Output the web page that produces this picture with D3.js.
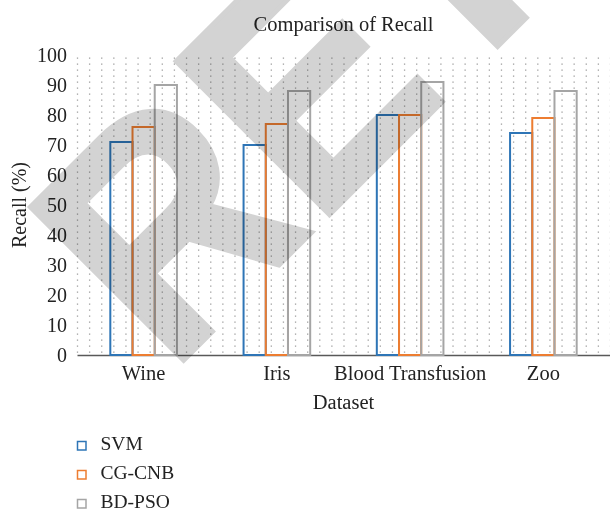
<!DOCTYPE html>
<html>
<head>
<meta charset="utf-8">
<script src="https://cdn.jsdelivr.net/npm/d3@7"></script>
<style>
  body { margin: 0; background: #fff; }
  text { font-family: "Liberation Serif", "Times New Roman", serif; fill: #222; }
</style>
</head>
<body>
<div id="chart"></div>
<script>
// data
var datasets = ["Wine", "Iris", "Blood Transfusion", "Zoo"];
var methods = ["SVM", "CG-CNB", "BD-PSO"];
var svmRecall = [71, 70, 80, 74];
var cgcnbRecall = [76, 77, 80, 79];
var bdpsoRecall = [90, 88, 91, 88];
var yTicks = [0, 10, 20, 30, 40, 50, 60, 70, 80, 90, 100];
var colors = ["#2e75b6", "#ed7d31", "#a5a5a5"];

var rows = datasets.map(function(name, i) {
    return { name: name, values: [svmRecall[i], cgcnbRecall[i], bdpsoRecall[i]] };
});

var W = 610, H = 514;
var margin = {top: 55, right: 0, bottom: 159, left: 77};

var svg = d3.select("#chart").append("svg")
    .attr("width", W)
    .attr("height", H);

var x0 = d3.scaleBand()
    .domain(datasets)
    .range([margin.left, W - margin.right])
    .paddingInner(0.5)
    .paddingOuter(0.25);

var x1 = d3.scaleBand()
    .domain(methods)
    .range([0, x0.bandwidth()]);

var y = d3.scaleLinear()
    .domain([0, 100])
    .range([H - margin.bottom, margin.top]);

// dotted background grid (columns of dots, 11 per category)
var nCols = 44;
var colStep = (W - margin.right - margin.left) / nCols;
var dotGap = y(0) - y(2);
svg.append("g")
    .attr("class", "grid")
    .selectAll("line")
    .data(d3.range(nCols + 1))
  .enter().append("line")
    .attr("x1", function(k) { return margin.left + 0.5 + k * colStep; })
    .attr("x2", function(k) { return margin.left + 0.5 + k * colStep; })
    .attr("y1", y(100))
    .attr("y2", y(0))
    .attr("stroke", "#9c9c9c")
    .attr("stroke-width", 1.3)
    .attr("stroke-dasharray", "1.3 " + (dotGap - 1.3))
    .attr("stroke-dashoffset", -2.5);

// x axis
var xAxis = d3.axisBottom(x0).tickSize(0).tickSizeOuter(0).tickPadding(10);
var gx = svg.append("g")
    .attr("transform", "translate(0," + y(0) + ")")
    .call(xAxis);
gx.select(".domain").attr("stroke", "#595959").attr("stroke-width", 1.5);
gx.selectAll("text")
    .style("font-family", "Liberation Serif, serif")
    .style("font-size", "20.5px")
    .attr("fill", "#222");

// y axis
var yAxis = d3.axisLeft(y).tickValues(yTicks).tickSize(0).tickPadding(10);
var gy = svg.append("g")
    .attr("transform", "translate(" + margin.left + ",0)")
    .call(yAxis);
gy.select(".domain").remove();
gy.selectAll("text")
    .style("font-family", "Liberation Serif, serif")
    .style("font-size", "20px")
    .attr("fill", "#222");

// bars, outline only
var groups = svg.append("g").selectAll("g.grp")
    .data(rows)
  .enter().append("g")
    .attr("class", "grp")
    .attr("transform", function(d) { return "translate(" + x0(d.name) + ",0)"; });

groups.selectAll("rect")
    .data(function(d) { return d.values.map(function(v, i) { return {m: methods[i], v: v, i: i}; }); })
  .enter().append("rect")
    .attr("x", function(d) { return x1(d.m); })
    .attr("y", function(d) { return y(d.v); })
    .attr("width", x1.bandwidth())
    .attr("height", function(d) { return y(0) - y(d.v); })
    .attr("fill", "none")
    .attr("stroke", function(d) { return colors[d.i]; })
    .attr("stroke-width", 2);

// titles
svg.append("text")
    .attr("x", (margin.left + W - margin.right) / 2)
    .attr("y", 31)
    .attr("text-anchor", "middle")
    .style("font-size", "20.5px")
    .text("Comparison of Recall");

svg.append("text")
    .attr("x", (margin.left + W - margin.right) / 2)
    .attr("y", 409)
    .attr("text-anchor", "middle")
    .style("font-size", "20.5px")
    .text("Dataset");

svg.append("text")
    .attr("transform", "translate(26," + y(50) + ") rotate(-90)")
    .attr("text-anchor", "middle")
    .style("font-size", "20px")
    .text("Recall (%)");

// legend
var legend = svg.append("g").selectAll("g")
    .data(methods)
  .enter().append("g")
    .attr("transform", function(d, i) { return "translate(77," + (441 + i * 29) + ")"; });

legend.append("rect")
    .attr("x", 0.5).attr("y", 0.5)
    .attr("width", 8.5).attr("height", 8.5)
    .attr("fill", "none")
    .attr("stroke", function(d, i) { return colors[i]; })
    .attr("stroke-width", 1.5);

legend.append("text")
    .attr("x", 23.5)
    .attr("y", 8.5)
    .style("font-size", "19.5px")
    .text(function(d) { return d; });

// retraction watermark laid over the chart
svg.append("text")
    .attr("transform", "translate(170,374) rotate(-45) scale(0.906,1)")
    .style("font-family", "Liberation Sans, Arial, sans-serif")
    .style("font-weight", "bold")
    .style("font-size", "315px")
    .style("fill", "#d3d3d3")
    .style("stroke", "#d3d3d3")
    .style("stroke-width", "5px")
    .style("stroke-linejoin", "miter")
    .style("mix-blend-mode", "multiply")
    .text("RETRACTED");
</script>
</body>
</html>
